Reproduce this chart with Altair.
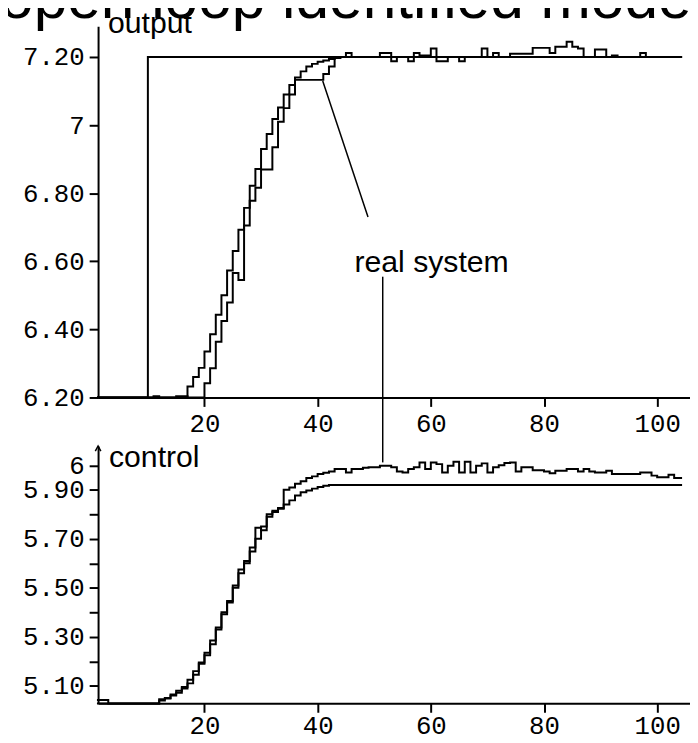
import altair as alt
import pandas as pd

# ---------------- data ----------------
TIME = list(range(1, 105)) + [104.4]

model_output = (
    [6.20] * 16
    + [6.232, 6.26, 6.287, 6.335, 6.386, 6.443, 6.50, 6.573, 6.63, 6.693,
       6.757, 6.822, 6.871, 6.93, 6.974, 7.018, 7.052, 7.09, 7.118, 7.14,
       7.158, 7.172, 7.18, 7.186, 7.19, 7.194, 7.197]
    + [7.20] * 61
)

real_output = (
    [6.20] * 10 + [6.204] + [6.20] * 3 + [6.204, 6.204] + [6.20] * 3
    + [6.242, 6.286, 6.364, 6.425, 6.479, 6.566, 6.545, 6.705, 6.778, 6.816,
       6.87, 6.87, 6.935, 7.01, 7.05, 7.09, 7.133, 7.133, 7.133, 7.133,
       7.133, 7.15, 7.172, 7.198]
    + [7.20, 7.212, 7.20, 7.20, 7.20, 7.20, 7.20, 7.212, 7.212, 7.188,
       7.20, 7.20, 7.188, 7.212, 7.205, 7.205, 7.225, 7.188, 7.188, 7.20,
       7.20, 7.188, 7.20, 7.20, 7.20, 7.225, 7.20, 7.212, 7.20, 7.20,
       7.21, 7.21, 7.21, 7.21, 7.227, 7.227, 7.227, 7.212, 7.23, 7.23,
       7.245, 7.23, 7.225, 7.20, 7.20, 7.222, 7.222, 7.20, 7.205, 7.20,
       7.20, 7.20, 7.20, 7.212, 7.20, 7.20, 7.20, 7.20, 7.20, 7.20, 7.20]
)

model_control = (
    [5.028] * 11
    + [5.04, 5.05, 5.06, 5.072, 5.089, 5.11, 5.145, 5.19, 5.235, 5.285,
       5.338, 5.392, 5.446, 5.50, 5.56, 5.61, 5.648, 5.70, 5.75, 5.79,
       5.81, 5.823, 5.84, 5.857, 5.877, 5.89, 5.897, 5.905, 5.912, 5.917]
    + [5.92] * 63
)

real_control = (
    [5.042, 5.042] + [5.028] * 9
    + [5.045, 5.048, 5.065, 5.08, 5.095, 5.125, 5.16, 5.195, 5.225, 5.27,
       5.33, 5.40, 5.44, 5.51, 5.575, 5.60, 5.665, 5.745, 5.735, 5.80,
       5.815, 5.826, 5.90, 5.91, 5.925, 5.935, 5.948, 5.955, 5.965, 5.97,
       5.975, 5.985]
    + [5.985, 5.971, 5.985, 5.985, 5.99, 5.992, 5.992, 5.998, 5.998, 5.992,
       5.975, 5.971, 5.985, 5.992, 6.012, 5.985, 6.012, 6.005, 5.971, 5.998,
       6.015, 5.971, 6.015, 5.971, 5.998, 6.008, 5.971, 5.992, 6.0, 6.01,
       6.012, 5.975, 5.992, 5.992, 5.98, 5.98, 5.975, 5.968, 5.978, 5.978,
       5.985, 5.985, 5.975, 5.985, 5.975, 5.971, 5.971, 5.978, 5.965, 5.965,
       5.965, 5.965, 5.965, 5.971, 5.971, 5.958, 5.951, 5.951, 5.962, 5.948,
       5.948]
)

ref_time = [1, 10, 104.4]
ref_value = [6.20, 7.20, 7.20]

X_TICKS = [20, 40, 60, 80, 100]
OUT_TICKS = [6.2, 6.4, 6.6, 6.8, 7.0, 7.2]
CTRL_TICKS = [5.1, 5.2, 5.3, 5.4, 5.5, 5.6, 5.7, 5.8, 5.9, 6.0]

TITLE = "open loop identified model"
OUT_LABEL = "output"
CTRL_LABEL = "control"
NOTE = "real system"

# annotation pointers (data coordinates)
note_top = {"x1": [40.9], "y1": [7.13], "x2": [48.9], "y2": [6.73]}
note_bot = {"x1": [51.5], "y1": [6.77], "x2": [51.5], "y2": [6.012]}
note_pos = {"x": [46.5], "y": [6.568]}


def ext(s):
    return s + [s[-1]]


n = len(TIME)
out_df = pd.DataFrame({
    "t": TIME * 2,
    "v": ext(model_output) + ext(real_output),
    "s": ["model"] * n + ["real"] * n,
})
ctrl_df = pd.DataFrame({
    "t": TIME * 2,
    "v": ext(model_control) + ext(real_control),
    "s": ["model"] * n + ["real"] * n,
})
ref_df = pd.DataFrame({"t": ref_time, "v": ref_value})

# ---------------- scales / axes ----------------
X_DOMAIN = [1.2, 105.8]
TOP_H = 375
BOT_TOP = 424
BOT_BOTTOM = 684

xs = alt.Scale(domain=X_DOMAIN, nice=False, zero=False)
ys_out = alt.Scale(domain=[6.2, 7.2904], range=[TOP_H, 0], nice=False, zero=False)
ys_ctrl = alt.Scale(domain=[5.0285, 6.079], range=[BOT_BOTTOM, BOT_TOP], nice=False, zero=False)

axis_style = dict(
    domainColor="black", domainWidth=2, tickColor="black", tickWidth=2,
    tickSize=9, labelFont="Liberation Mono", labelFontSize=26,
    labelColor="black", grid=False, title=None, labelOverlap=False,
    labelFlush=False,
)

x_axis_top = alt.Axis(values=X_TICKS, orient="bottom", offset=-(BOT_BOTTOM - TOP_H),
                      labelPadding=4, **axis_style)
x_axis_bot = alt.Axis(values=X_TICKS, orient="bottom", labelPadding=0, **axis_style)
y_axis_out = alt.Axis(values=OUT_TICKS, orient="left", labelPadding=5,
                      labelExpr="abs(datum.value - 7) < 0.001 ? '7' : format(datum.value, '.2f')",
                      **axis_style)
y_axis_ctrl = alt.Axis(values=CTRL_TICKS, orient="left", labelPadding=5,
                       labelExpr="abs(datum.value - 6) < 0.001 ? '6' : (round(datum.value * 10) % 2 == 1 ? format(datum.value, '.2f') : '')",
                       **axis_style)

LABEL_FONT = dict(font="Liberation Sans", fontSize=30.5, align="left",
                  baseline="alphabetic", color="black")

# ---------------- top panel ----------------
ref_line = alt.Chart(ref_df).mark_line(interpolate="step-after", color="black", strokeWidth=2).encode(
    x=alt.X("t:Q", scale=xs, axis=x_axis_top),
    y=alt.Y("v:Q", scale=ys_out, axis=y_axis_out),
)
out_lines = alt.Chart(out_df).mark_line(interpolate="step-after", color="black", strokeWidth=2).encode(
    x=alt.X("t:Q"), y=alt.Y("v:Q"), detail="s:N",
)
top_pointer = alt.Chart(pd.DataFrame(note_top)).mark_rule(color="black", strokeWidth=1.5).encode(
    x="x1:Q", y="y1:Q", x2="x2:Q", y2="y2:Q",
)
note_text = alt.Chart(pd.DataFrame({**note_pos, "txt": [NOTE]})).mark_text(**LABEL_FONT).encode(
    x="x:Q", y="y:Q", text="txt:N")

title_text = alt.Chart(pd.DataFrame({"txt": [TITLE]})).mark_text(
    font="Liberation Sans", fontSize=61, align="left", baseline="alphabetic", color="black"
).encode(x=alt.value(-99), y=alt.value(-8.7), text="txt:N")
out_text = alt.Chart(pd.DataFrame({"txt": [OUT_LABEL]})).mark_text(**LABEL_FONT).encode(
    x=alt.value(10), y=alt.value(6.8), text="txt:N")
ctrl_text = alt.Chart(pd.DataFrame({"txt": [CTRL_LABEL]})).mark_text(**LABEL_FONT).encode(
    x=alt.value(11), y=alt.value(445.3), text="txt:N")
ctrl_arrow = alt.Chart(pd.DataFrame({"a": [1]})).mark_point(
    shape="M -0.7 1.3 L 0 0 L 0.7 1.3", filled=False, color="black",
    strokeWidth=1.5, size=64, opacity=1,
).encode(x=alt.value(0), y=alt.value(BOT_TOP))

top = alt.layer(ref_line, out_lines, top_pointer, note_text, title_text, out_text,
                ctrl_text, ctrl_arrow)

# ---------------- bottom panel ----------------
ctrl_lines = alt.Chart(ctrl_df).mark_line(interpolate="step-after", color="black", strokeWidth=2).encode(
    x=alt.X("t:Q", scale=xs, axis=x_axis_bot),
    y=alt.Y("v:Q", scale=ys_ctrl, axis=y_axis_ctrl),
    detail="s:N",
)
bot_pointer = alt.Chart(pd.DataFrame(note_bot)).mark_rule(color="black", strokeWidth=1.5).encode(
    x="x1:Q", y="y1:Q", x2="x2:Q", y2="y2:Q",
)
bottom = alt.layer(ctrl_lines, bot_pointer)

chart = (
    alt.layer(top, bottom)
    .resolve_scale(x="independent", y="independent")
    .properties(
        width=598, height=BOT_BOTTOM,
        autosize=alt.AutoSizeParams(type="none"),
        padding={"left": 91, "top": 14.7, "right": 0, "bottom": 40},
    )
    .configure_view(stroke=None)
)

chart.save("out.html", embed_options={"renderer": "svg", "actions": False})
